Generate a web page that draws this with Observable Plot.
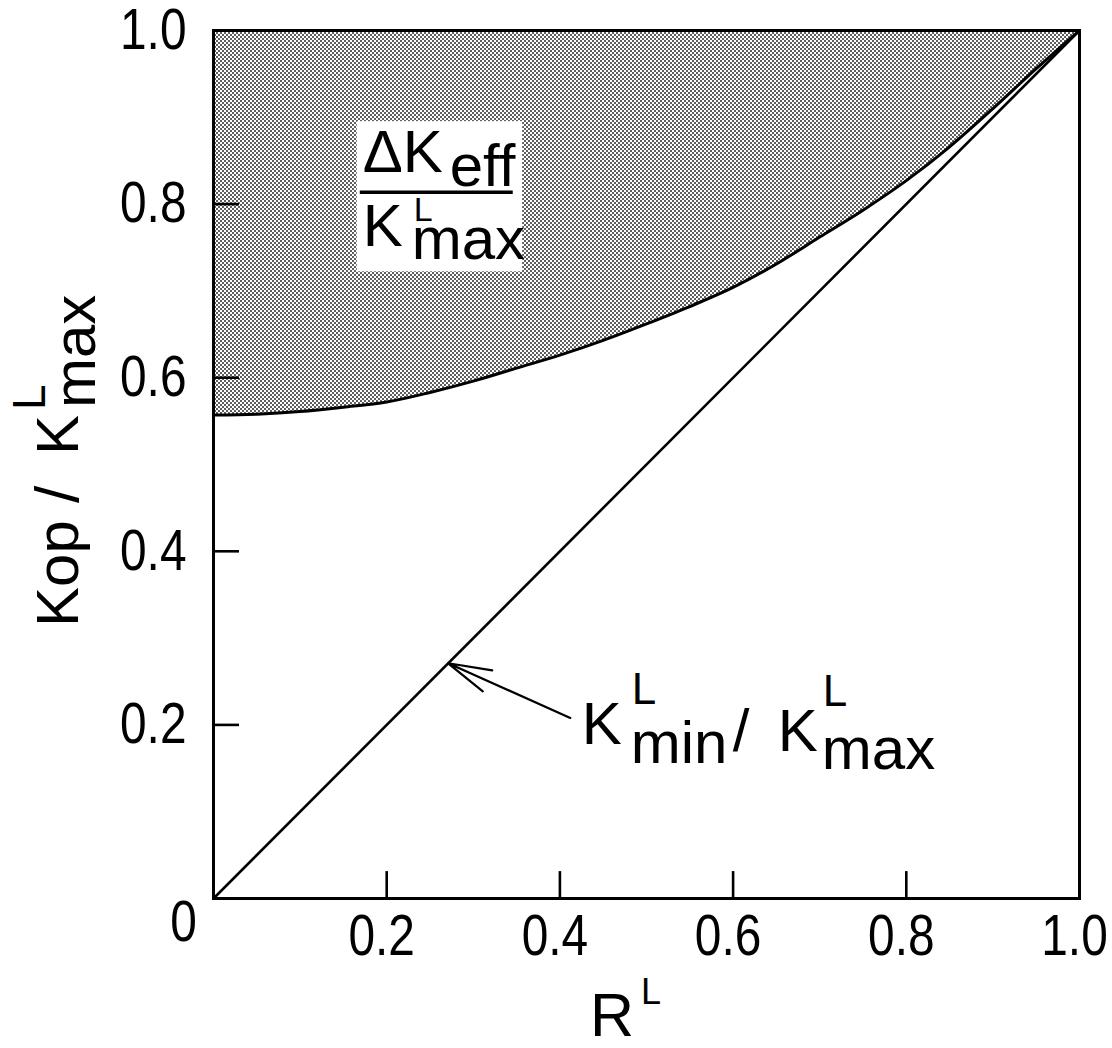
<!DOCTYPE html>
<html><head><meta charset="utf-8">
<script src="https://cdn.jsdelivr.net/npm/d3@7"></script>
<script src="https://cdn.jsdelivr.net/npm/@observablehq/plot@0.6"></script>
<style>
body{margin:0;background:#fff}
#chart{position:absolute;left:0;top:0}
</style>
</head><body><div id="chart"></div>
<script>
// Load ratio R^L (x) and upper boundary of Kop/Kmax (shaded region lower edge)
const loadRatio = [0, 0.05, 0.1, 0.15, 0.2, 0.25, 0.3, 0.35, 0.4, 0.45, 0.5, 0.55, 0.6, 0.65, 0.7, 0.75, 0.8, 0.85, 0.9, 0.95, 1.0];
const kopBoundary = [0.557, 0.558, 0.561, 0.566, 0.572, 0.583, 0.596, 0.611, 0.626, 0.643, 0.662, 0.682, 0.704, 0.731, 0.762, 0.793, 0.827, 0.866, 0.910, 0.956, 1.0];
// K_min/K_max line = R^L
const diagonalR = [0, 1];
const diagonalK = [0, 1];
// ticks
const xTickLabels = [0.2, 0.4, 0.6, 0.8, 1.0];
const yTickLabels = [0.2, 0.4, 0.6, 0.8, 1.0];
const innerTicks = [0.2, 0.4, 0.6, 0.8];
const originLabel = ["0"];
// annotation arrow (tail -> tip on the diagonal) and label box
const arrowTail = {R: 0.412, K: 0.208};
const arrowTip = {R: 0.271, K: 0.271};
const labelBox = {R1: 0.166, R2: 0.357, K1: 0.722, K2: 0.895};

const boundary = loadRatio.map((r, i) => ({R: r, K: kopBoundary[i]}));
const diagonal = diagonalR.map((r, i) => ({R: r, K: diagonalK[i]}));

const NUM_FONT = "'Liberation Sans', Arial, sans-serif";
const TXT_FONT = "'Liberation Sans', Arial, sans-serif";

const plot = Plot.plot({
  width: 1112, height: 1048,
  marginLeft: 213, marginRight: 33, marginTop: 30, marginBottom: 150,
  x: {domain: [0, 1], label: null},
  y: {domain: [0, 1], label: null},
  style: {background: "white", color: "black", fontFamily: NUM_FONT},
  marks: [
    Plot.areaY(boundary, {x: "R", y1: "K", y2: () => 1, fill: "url(#dots)"}),
    Plot.rect([labelBox], {x1: "R1", x2: "R2", y1: "K1", y2: "K2", fill: "white"}),
    Plot.line(boundary, {x: "R", y: "K", stroke: "black", strokeWidth: 3, curve: "monotone-x"}),
    Plot.line(diagonal, {x: "R", y: "K", stroke: "black", strokeWidth: 2.6}),
    Plot.ruleX(innerTicks, {x: d => d, y1: 0, y2: 0.031, stroke: "black", strokeWidth: 2.6}),
    Plot.ruleY(innerTicks, {y: d => d, x1: 0, x2: 0.03, stroke: "black", strokeWidth: 2.6}),
    Plot.frame({stroke: "black", strokeWidth: 3}),
    Plot.axisX(xTickLabels, {tickSize: 0, tickPadding: 16, dx: -5, fontSize: 57, tickFormat: d3.format(".1f"), fontFamily: NUM_FONT, label: null}),
    Plot.axisY(yTickLabels, {tickSize: 0, tickPadding: 27, fontSize: 57, tickFormat: d3.format(".1f"), fontFamily: NUM_FONT, label: null}),
    Plot.text(originLabel, {x: () => 0, y: () => 0, text: d => d, dx: -30, dy: 24, fontSize: 57, fontFamily: NUM_FONT}),
    Plot.arrow([{x1: arrowTail.R, y1: arrowTail.K, x2: arrowTip.R, y2: arrowTip.K}],
      {x1: "x1", y1: "y1", x2: "x2", y2: "y2", stroke: "black", strokeWidth: 2.2, headLength: 32, headAngle: 30})
  ]
});

document.getElementById("chart").appendChild(plot);
const svg = d3.select(plot);

// narrow the tick-label digits (the reference uses a condensed lettering face),
// keeping each label's anchor edge where the axis put it
function condense(selector, keep) {
  svg.selectAll(selector).each(function () {
    const r1 = this.getBoundingClientRect();
    const t = this.getAttribute("transform") || "";
    this.setAttribute("transform", t + " scale(0.84,1)");
    const r2 = this.getBoundingClientRect();
    let shift = 0;
    if (keep === "right") shift = r1.right - r2.right;
    else shift = (r1.left + r1.right) / 2 - (r2.left + r2.right) / 2;
    this.setAttribute("transform", `translate(${shift},0) ` + t + " scale(0.84,1)");
  });
}
condense('g[aria-label="y-axis tick label"] text', "right");
condense('g[aria-label="x-axis tick label"] text', "center");
condense('g[aria-label="text"] text', "center");

// halftone dot pattern
const defs = svg.insert("defs", ":first-child");
const pat = defs.append("pattern").attr("id", "dots").attr("patternUnits", "userSpaceOnUse")
  .attr("width", 4).attr("height", 4);
pat.append("rect").attr("width", 4).attr("height", 4).attr("fill", "white");
pat.append("circle").attr("cx", 1).attr("cy", 1).attr("r", 0.95).attr("fill", "#1a1a1a");
pat.append("circle").attr("cx", 3).attr("cy", 3).attr("r", 0.95).attr("fill", "#1a1a1a");

const sx = plot.scale("x").apply, sy = plot.scale("y").apply;
const g = svg.append("g").attr("font-family", TXT_FONT).attr("fill", "black");
function txt(parent, s, x, y, size, anchor) {
  parent.append("text").attr("x", x).attr("y", y).attr("font-size", size)
    .attr("text-anchor", anchor || "start").text(s);
}

// fraction ΔK_eff / K^L_max inside white box
const bx = sx(labelBox.R1), by = sy(labelBox.K2);
txt(g, "ΔK", bx + 86, by + 51, 60, "end");
txt(g, "eff", bx + 93, by + 65, 60);
g.append("line").attr("x1", bx + 3).attr("x2", bx + 156).attr("y1", by + 71).attr("y2", by + 71)
  .attr("stroke", "black").attr("stroke-width", 3.5);
txt(g, "K", bx + 46, by + 125, 60, "end");
txt(g, "L", bx + 57, by + 100, 34);
txt(g, "max", bx + 55, by + 138, 60);

// annotation K^L_min / K^L_max
const ax = sx(arrowTail.R), ay = sy(arrowTail.K);
txt(g, "K", ax + 52, ay + 27, 60, "end");
txt(g, "L", ax + 62, ay - 13, 44);
txt(g, "min", ax + 61, ay + 46, 60);
txt(g, "/", ax + 163, ay + 34, 60);
txt(g, "K", ax + 208, ay + 34, 60);
txt(g, "L", ax + 253, ay - 11, 44);
txt(g, "max", ax + 252, ay + 52, 60);

// x-axis title R^L
const cx = sx(0.5);
txt(g, "R", cx - 12, 1036, 61, "end");
txt(g, "L", cx - 5, 1004, 36);

// y-axis title Kop / K^L_max (rotated)
const yl = g.append("g").attr("transform", `translate(78, ${sy(0.5) + 163}) rotate(-90)`);
txt(yl, "Kop", 0, 0, 60);
txt(yl, "/", 124, 0, 62);
txt(yl, "K", 212, 0, 60, "end");
txt(yl, "L", 217, -33, 46);
txt(yl, "max", 219, 17, 60);
</script>
</body></html>
